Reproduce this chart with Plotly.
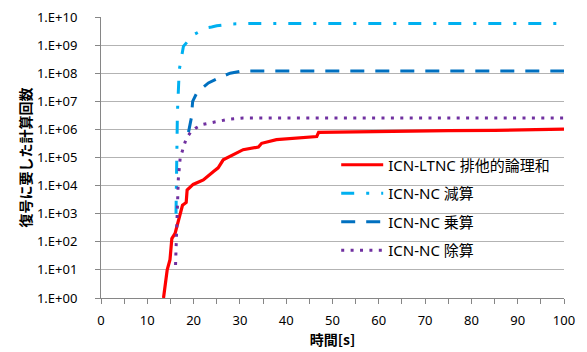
import plotly.graph_objects as go

# ICN-LTNC 排他的論理和
ltnc_x = [13.5, 14.3, 14.9, 15.3, 16.0, 16.6, 17.2, 17.6, 18.4, 18.6, 19.9, 22.1, 24.3, 25.3,
          26.4, 27.9, 30.7, 34.0, 34.7, 37.9, 46.6, 47.0, 55, 65, 75, 85, 95, 100]
ltnc_y = [1, 10, 23, 130, 200, 500, 1400, 2000, 2500, 7000, 11000, 16000, 32000, 43000,
          83000, 110000, 190000, 235000, 320000, 430000, 560000, 790000, 830000, 870000,
          910000, 930000, 980000, 1020000]

# ICN-NC 減算
sub_x = [16.2, 16.3, 16.5, 16.9, 17.8, 19.9, 22.8, 23.9, 25.0, 27.9, 32, 100]
sub_y = [1000, 3.2e4, 3.8e6, 1.3e8, 9.0e8, 2.3e9, 4.1e9, 4.4e9, 4.9e9, 5.6e9, 5.9e9, 5.9e9]

# ICN-NC 乗算
mul_x = [18.9, 19.5, 19.8, 20.7, 23.2, 25.0, 27.9, 30.5, 100]
mul_y = [8e5, 2.5e6, 1e7, 2e7, 4.5e7, 6.3e7, 1e8, 1.2e8, 1.2e8]

# ICN-NC 除算
div_x = [16.1, 16.3, 16.5, 16.7, 17.1, 17.6, 18.4, 19.4, 20.4, 21.9, 23.4, 25.0, 27.9, 30.7, 100]
div_y = [15, 300, 5500, 1.7e4, 9.5e4, 1.65e5, 4.7e5, 8.1e5, 1.1e6, 1.5e6, 1.7e6, 1.95e6,
         2.35e6, 2.55e6, 2.55e6]

y_tickvals = [10 ** i for i in range(11)]
y_ticktext = ["1.E+%02d" % i for i in range(11)]
x_tickvals = list(range(0, 101, 10))

names = ["ICN-LTNC 排他的論理和", "ICN-NC 減算", "ICN-NC 乗算", "ICN-NC 除算"]

FONT = "Noto Sans, Noto Sans CJK JP, sans-serif"
JP = "Noto Sans CJK JP, sans-serif"

fig = go.Figure()
fig.add_trace(go.Scatter(x=ltnc_x, y=ltnc_y, mode="lines", name=names[0], legendgroup="a",
                         line=dict(color="#FF0000", width=3.2)))
fig.add_trace(go.Scatter(x=sub_x, y=sub_y, mode="lines", name=names[1], legendgroup="b",
                         line=dict(color="#00B0F0", width=3, dash="13px,12px,3px,12px")))
fig.add_trace(go.Scatter(x=mul_x, y=mul_y, mode="lines", name=names[2], legendgroup="c",
                         line=dict(color="#0070C0", width=3, dash="14px,11px")))
fig.add_trace(go.Scatter(x=div_x, y=div_y, mode="lines", name=names[3], legendgroup="d",
                         line=dict(color="#7030A0", width=3, dash="3px,6.4px")))

# white legend panel covering the gridlines behind the legend
fig.add_shape(type="rect", xref="paper", yref="paper", x0=0.497, x1=0.999, y0=0.046, y1=0.545,
              fillcolor="white", line=dict(width=0), layer="between")

# the page body adds an 8px offset, so the figure is sized 8px smaller
fig.update_layout(
    width=579, height=344,
    margin=dict(l=93, r=23, t=9, b=54, autoexpand=False),
    paper_bgcolor="white", plot_bgcolor="white",
    font=dict(family=FONT, size=13, color="#000000"),
    legend=dict(x=0.508, y=0.532, xanchor="left", yanchor="top",
                bgcolor="rgba(255,255,255,0)", font=dict(family=FONT, size=15),
                tracegroupgap=6, traceorder="grouped", itemwidth=42),
    showlegend=True,
)
fig.update_xaxes(
    range=[0, 100], tickvals=x_tickvals, ticks="outside", ticklen=5, tickcolor="#868686",
    showline=True, linecolor="#868686", linewidth=1, showgrid=False, zeroline=False,
    minor=dict(dtick=5, ticks="outside", ticklen=5, tickcolor="#868686", showgrid=False),
    tickfont=dict(size=13), ticklabelstandoff=5, automargin=False, ticklabeloverflow="allow",
    title=dict(text="<b>時間[s]</b>", font=dict(family=JP, size=14), standoff=4),
)
fig.update_yaxes(
    type="log", range=[0, 10], tickvals=y_tickvals, ticktext=y_ticktext,
    ticks="outside", ticklen=5, tickcolor="#868686",
    showline=True, linecolor="#868686", linewidth=1,
    showgrid=True, gridcolor="#B3B3B3", gridwidth=1, zeroline=False,
    tickfont=dict(size=13), ticklabelstandoff=15, automargin=False, ticklabeloverflow="allow",
    title=dict(text="<b>復号に要した計算回数</b>", font=dict(family=JP, size=14), standoff=2),
)

fig.write_html("out.html")
